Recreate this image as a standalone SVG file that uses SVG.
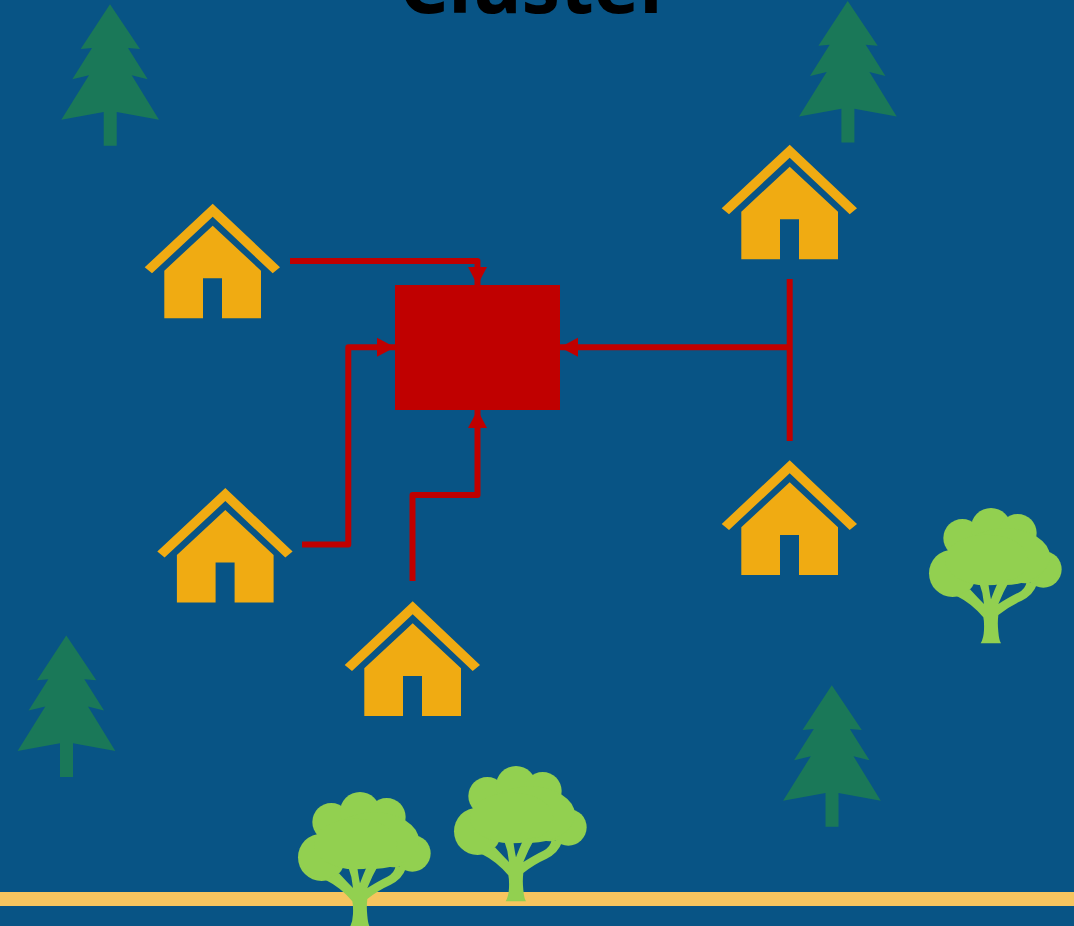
<svg xmlns="http://www.w3.org/2000/svg" width="1074" height="926" viewBox="0 0 1074 926">
<style>
.title{font-family:"Noto Sans","Open Sans",sans-serif;font-weight:700;font-size:77px;fill:#000}
.house{fill:#f0ab12}
.pine{fill:#1a7858}
.oak{fill:#92d050}
.wire{fill:none;stroke:#c00000;stroke-width:6;stroke-linejoin:round}
</style>
<defs>
<marker id="arrow" markerUnits="userSpaceOnUse" markerWidth="18" markerHeight="20" refX="18" refY="10" orient="auto"><path d="M0 0.5L18 10L0 19.5Z" fill="#c00000"/></marker>
<g id="house-shape">
<path d="M0 0L67.3 63.6L60 69.6L0 13L-60.7 69.6L-68 63.6Z"/>
<path d="M0 22L48.3 67V114.6H9.3V74.6H-9.7V114.6H-48.4V67Z"/>
</g>
<g id="pine-shape">
<path d="M0 0L30 44.7L18 43.7L37.7 75L21.7 71L49 115.4L6.7 107.7V141.4H-6.3V107.7L-48.7 115.4L-21 71L-37.7 75L-18 43.7L-29.3 44.7Z"/>
</g>
<g id="oak-shape" transform="scale(0.3333)">
<circle cx="113" cy="220" r="71"/>
<circle cx="142" cy="114" r="57"/>
<circle cx="228" cy="84" r="60"/>
<circle cx="308" cy="99" r="57"/>
<circle cx="385" cy="208" r="55"/>
<circle cx="330" cy="190" r="60"/>
<ellipse cx="270" cy="170" rx="135" ry="85"/>
<ellipse cx="215" cy="180" rx="125" ry="76"/>
<path d="M197 430Q206 415 207 390Q208 365 205 352Q170 310 125 288L165 268Q185 290 207 312Q205 280 193 250L220 250Q224 280 228 298Q240 265 250 245L286 238Q265 275 250 312Q285 290 310 278Q332 266 335 245L366 252Q355 285 320 302Q280 320 250 345Q247 370 250 395Q252 420 258 430Z"/>
</g>
</defs>
<rect width="1074" height="926" fill="#085485"/>
<text class="title" x="536.5" y="13" text-anchor="middle">Cluster</text>
<rect id="road" x="0" y="892" width="1074" height="14" fill="#f7c55f"/>
<g id="connectors">
<path class="wire" d="M290 261H477.5V285" marker-end="url(#arrow)"/>
<path class="wire" d="M302 544.5H348.3V347.3H395" marker-end="url(#arrow)"/>
<path class="wire" d="M412.5 581V495H477.5V410" marker-end="url(#arrow)"/>
<path class="wire" d="M789.7 279V441"/>
<path class="wire" d="M789.7 347.3H560" marker-end="url(#arrow)"/>
</g>
<g id="hub"><rect x="395" y="285" width="165" height="125" fill="#c00000"/></g>
<g id="house-1" class="house"><use href="#house-shape" x="212.7" y="203.7"/></g>
<g id="house-2" class="house"><use href="#house-shape" x="225.3" y="488"/></g>
<g id="house-3" class="house"><use href="#house-shape" x="412.7" y="601.3"/></g>
<g id="house-4" class="house"><use href="#house-shape" x="789.7" y="144.7"/></g>
<g id="house-5" class="house"><use href="#house-shape" x="789.7" y="460.3"/></g>
<g id="pine-1" class="pine"><use href="#pine-shape" x="110" y="4.3"/></g>
<g id="pine-2" class="pine"><use href="#pine-shape" x="847.7" y="1"/></g>
<g id="pine-3" class="pine"><use href="#pine-shape" x="66.3" y="635.5"/></g>
<g id="pine-4" class="pine"><use href="#pine-shape" x="831.8" y="685.3"/></g>
<g id="oak-1" class="oak" transform="translate(915 500)"><use href="#oak-shape"/></g>
<g id="oak-2" class="oak" transform="translate(284 784)"><use href="#oak-shape"/></g>
<g id="oak-3" class="oak" transform="translate(440 758)"><use href="#oak-shape"/></g>
</svg>
